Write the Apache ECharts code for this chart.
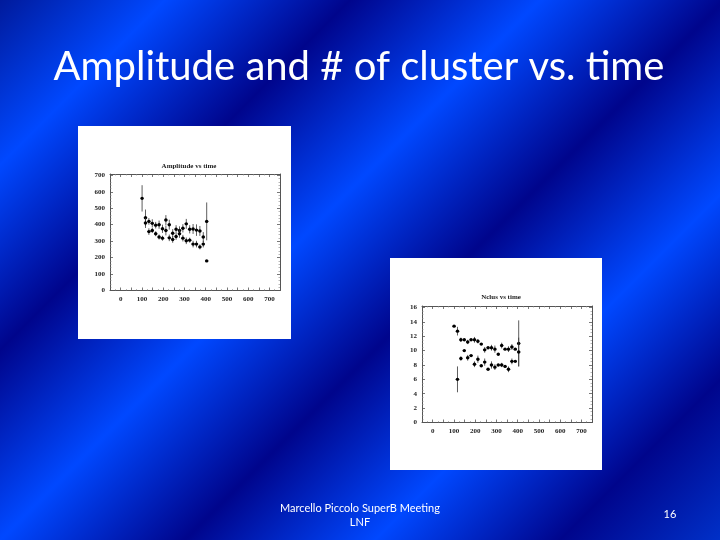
<!DOCTYPE html>
<html>
<head>
<meta charset="utf-8">
<style>
html, body { margin: 0; padding: 0; background: #0030c8; }
#main { width: 720px; height: 540px; }
</style>
<script src="https://cdn.jsdelivr.net/npm/echarts@6/dist/echarts.min.js"></script>
</head>
<body>
<div id="main"></div>
<script>
// time bins shared by both plots
const timeBins = [101, 117, 133, 149, 165, 181, 197, 213, 229, 245, 261, 277, 293, 309, 325, 341, 357, 373, 389, 405];

// Amplitude vs time
const ampUpper = [560, 442, 420, 408, 397, 400, 375, 428, 400, 348, 372, 365, 378, 405, 372, 374, 367, 362, 325, 420];
const ampUpperErr = [80, 50, 20, 25, 20, 25, 25, 30, 30, 25, 25, 25, 25, 30, 25, 30, 35, 30, 30, 115];
const ampLower = [null, 410, 358, 365, 345, 325, 318, 365, 320, 310, 328, 345, 318, 302, 306, 282, 282, 265, 282, 180];
const ampLowerErr = [0, 30, 20, 15, 15, 15, 15, 30, 20, 20, 20, 25, 20, 20, 15, 20, 20, 15, 20, 5];

// Nclus vs time
const nclusUpper = [13.4, 12.7, 11.5, 11.5, 11.2, 11.5, 11.5, 11.3, 10.9, 10.1, 10.4, 10.4, 10.2, 9.5, 10.7, 10.2, 10.2, 10.5, 10.2, 11.0];
const nclusUpperErr = [0.05, 0.6, 0.3, 0.1, 0.3, 0.1, 0.4, 0.3, 0.1, 0.4, 0.1, 0.4, 0.5, 0.1, 0.4, 0.1, 0.4, 0.4, 0.1, 3.2];
const nclusLower = [null, 6.0, 8.9, 10.0, 9.0, 9.3, 8.1, 8.8, 7.9, 8.4, 7.4, 8.0, 7.7, 8.0, 8.0, 7.8, 7.4, 8.5, 8.5, 9.8];
const nclusLowerErr = [0, 1.8, 0.3, 0.05, 0.4, 0.05, 0.4, 0.5, 0.1, 0.5, 0.05, 0.5, 0.4, 0.1, 0.3, 0.1, 0.4, 0.4, 0.05, 2.0];

const xTickValues = [0, 100, 200, 300, 400, 500, 600, 700];

var myChart = echarts.init(document.getElementById('main'));

function zip(values, errs) {
    var out = [];
    values.forEach(function(v, i) {
        if (v !== null) out.push([timeBins[i], v, errs[i]]);
    });
    return out;
}

// point with vertical error and +-half bin horizontal bar
function renderPoint(params, api) {
    var t = api.value(0), v = api.value(1), e = api.value(2);
    var p = api.coord([t, v]);
    var top = api.coord([t, v + e]);
    var bottom = api.coord([t, v - e]);
    var left = api.coord([t - 8, v]);
    var right = api.coord([t + 8, v]);
    var lineStyle = { stroke: '#333', lineWidth: 0.8 };
    return {
        type: 'group',
        children: [
            { type: 'line', shape: { x1: top[0], y1: top[1], x2: bottom[0], y2: bottom[1] }, style: lineStyle },
            { type: 'line', shape: { x1: left[0], y1: left[1], x2: right[0], y2: right[1] }, style: lineStyle },
            { type: 'circle', shape: { cx: p[0], cy: p[1], r: 1.7 }, style: { fill: '#000' } }
        ]
    };
}

function pointSeries(name, values, errs, idx) {
    return {
        name: name,
        type: 'custom',
        xAxisIndex: idx,
        yAxisIndex: idx,
        data: zip(values, errs),
        encode: { x: 0, y: 1 },
        renderItem: renderPoint,
        silent: true,
        animation: false
    };
}

function tickLabel(step) {
    return function(v) { return v >= 0 && v % step === 0 ? String(v) : ''; };
}

function xAxis(gridIndex, position) {
    return {
        type: 'value',
        gridIndex: gridIndex,
        position: position,
        min: -50,
        max: 750,
        interval: 50,
        axisLine: { show: true, onZero: false, lineStyle: { color: '#555', width: 1 } },
        axisTick: { show: true, inside: true, length: 3, lineStyle: { color: '#555', width: 0.8 } },
        minorTick: { show: true, splitNumber: 2, length: 1.5, lineStyle: { color: '#888', width: 0.6 } },
        splitLine: { show: false },
        axisLabel: {
            show: position === 'bottom',
            formatter: tickLabel(100),
            margin: 5,
            fontFamily: 'Liberation Serif',
            fontWeight: 'bold',
            fontSize: 7,
            color: '#222',
            showMinLabel: true,
            showMaxLabel: true
        }
    };
}

function yAxis(gridIndex, position, max, step, minor) {
    return {
        type: 'value',
        gridIndex: gridIndex,
        position: position,
        min: 0,
        max: max,
        interval: step,
        axisLine: { show: true, onZero: false, lineStyle: { color: '#555', width: 1 } },
        axisTick: { show: true, inside: true, length: 3, lineStyle: { color: '#555', width: 0.8 } },
        minorTick: { show: true, splitNumber: minor, length: 1.5, lineStyle: { color: '#888', width: 0.6 } },
        splitLine: { show: false },
        axisLabel: {
            show: position === 'left',
            formatter: tickLabel(step),
            margin: 5,
            fontFamily: 'Liberation Serif',
            fontWeight: 'bold',
            fontSize: 7,
            color: '#222'
        }
    };
}

function slideText(text, x, y, size, family) {
    return {
        type: 'text',
        x: x,
        y: y,
        style: {
            text: text,
            fill: '#fff',
            font: size + 'px ' + family,
            textAlign: 'center',
            textVerticalAlign: 'middle'
        }
    };
}

// slide background stripes run along x + y = const, period about 375px
var stripes = new echarts.graphic.LinearGradient(0, 0, 630, 630, [
    { offset: 0, color: '#001a9c' },
    { offset: 165 / 1260, color: '#0048ff' },
    { offset: 350 / 1260, color: '#00058c' },
    { offset: 540 / 1260, color: '#0048ff' },
    { offset: 725 / 1260, color: '#00058c' },
    { offset: 915 / 1260, color: '#0048ff' },
    { offset: 1100 / 1260, color: '#00058c' },
    { offset: 1, color: '#0030c8' }
], true);

var option = {
    backgroundColor: stripes,
    animation: false,
    title: [
        { text: 'Amplitude vs time', left: 184, top: 161, textAlign: 'center', textVerticalAlign: 'middle',
          textStyle: { fontFamily: 'Liberation Serif', fontWeight: 'bold', fontSize: 7, color: '#222' } },
        { text: 'Nclus vs time', left: 496, top: 292, textAlign: 'center', textVerticalAlign: 'middle',
          textStyle: { fontFamily: 'Liberation Serif', fontWeight: 'bold', fontSize: 7, color: '#222' } }
    ],
    grid: [
        { left: 110, top: 174, width: 170, height: 116.5 },
        { left: 422, top: 306, width: 170, height: 116.5 }
    ],
    xAxis: [xAxis(0, 'bottom'), xAxis(1, 'bottom'), xAxis(0, 'top'), xAxis(1, 'top')],
    yAxis: [
        yAxis(0, 'left', 708, 100, 5),
        yAxis(1, 'left', 16.2, 2, 4),
        yAxis(0, 'right', 708, 100, 5),
        yAxis(1, 'right', 16.2, 2, 4)
    ],
    series: [
        pointSeries('Amplitude upper', ampUpper, ampUpperErr, 0),
        pointSeries('Amplitude lower', ampLower, ampLowerErr, 0),
        pointSeries('Nclus upper', nclusUpper, nclusUpperErr, 1),
        pointSeries('Nclus lower', nclusLower, nclusLowerErr, 1)
    ],
    graphic: [
        { type: 'rect', z: -5, shape: { x: 78, y: 126, width: 213, height: 213 }, style: { fill: '#fff' } },
        { type: 'rect', z: -5, shape: { x: 390, y: 258, width: 212, height: 212 }, style: { fill: '#fff' } },
        slideText('Amplitude and # of cluster vs. time', 359, 67, 40, 'Lato'),
        slideText('Marcello Piccolo SuperB Meeting', 360, 508, 11, 'Lato'),
        slideText('LNF', 360, 522, 11, 'Lato'),
        slideText('16', 670, 514, 11, 'Lato')
    ]
};
myChart.setOption(option);
</script>
</body>
</html>
